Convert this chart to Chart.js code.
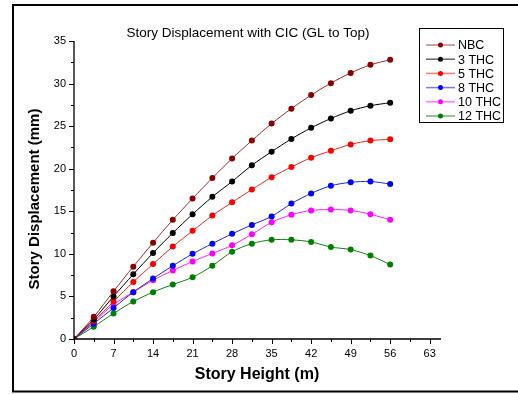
<!DOCTYPE html>
<html>
<head>
<meta charset="utf-8">
<script src="https://cdn.jsdelivr.net/npm/chart.js@4.4.1/dist/chart.umd.min.js"></script>
<style>
  html, body { margin: 0; padding: 0; background: #fff; }
  #wrap { position: relative; width: 518px; height: 394px; }
  canvas { display: block; }
</style>
</head>
<body>
<div id="wrap"><canvas id="c" width="518" height="394"></canvas></div>
<script>
// Story heights (m) and lateral displacement (mm) per model
const heights = [0, 3.5, 7, 10.5, 14, 17.5, 21, 24.5, 28, 31.5, 35, 38.5, 42, 45.5, 49, 52.5, 56];
const nbc   = [0, 2.6, 5.6, 8.5, 11.3, 14.0, 16.5, 18.9, 21.2, 23.3, 25.3, 27.05, 28.65, 30.05, 31.25, 32.2, 32.8];
const thc3  = [0, 2.3, 5.0, 7.6, 10.1, 12.45, 14.65, 16.7, 18.5, 20.4, 22.0, 23.5, 24.8, 25.9, 26.8, 27.4, 27.75];
const thc5  = [0, 2.1, 4.4, 6.7, 8.8, 10.85, 12.7, 14.5, 16.05, 17.55, 19.0, 20.2, 21.3, 22.1, 22.85, 23.3, 23.45];
const thc8  = [0, 1.8, 3.65, 5.5, 7.1, 8.6, 10.0, 11.2, 12.35, 13.4, 14.4, 15.9, 17.1, 18.0, 18.4, 18.5, 18.2];
const thc10 = [0, 2.0, 4.05, 5.5, 6.9, 8.05, 9.1, 10.05, 11.0, 12.3, 13.7, 14.6, 15.1, 15.2, 15.1, 14.65, 14.0];
const thc12 = [0, 1.45, 3.0, 4.4, 5.5, 6.4, 7.25, 8.6, 10.25, 11.2, 11.65, 11.65, 11.4, 10.8, 10.5, 9.8, 8.75];

const seriesNames = ['NBC', '3 THC', '5 THC', '8 THC', '10 THC', '12 THC'];
const seriesValues = [nbc, thc3, thc5, thc8, thc10, thc12];
const seriesColors = ['#8b0000', '#000000', '#ff0000', '#0000ff', '#ff00ff', '#008000'];
const lineColors   = ['#9b2b2b', '#000000', '#ff2020', '#2020ff', '#ff20ff', '#108010'];

const xTicks = [0, 7, 14, 21, 28, 35, 42, 49, 56, 63];
const yTicks = [0, 5, 10, 15, 20, 25, 30, 35];

const FONT = '"Liberation Sans", Arial, sans-serif';

const datasets = seriesNames.map((name, i) => ({
  label: name,
  data: heights.map((h, k) => ({ x: h, y: seriesValues[i][k] })),
  borderColor: lineColors[i],
  backgroundColor: seriesColors[i],
  pointBackgroundColor: seriesColors[i],
  pointBorderColor: seriesColors[i],
  borderWidth: 1,
  pointRadius: 3,
  pointBorderWidth: 0,
  tension: 0.3,
  fill: false
}));

// Frame, axes, ticks, titles and legend drawn on top of the scales
const decor = {
  id: 'decor',
  afterDraw(chart) {
    const ctx = chart.ctx;
    const xs = chart.scales.x, ys = chart.scales.y;
    const a = chart.chartArea;
    ctx.save();

    // outer frame
    ctx.strokeStyle = '#000';
    ctx.lineWidth = 2;
    ctx.beginPath();
    ctx.moveTo(520, 5); ctx.lineTo(13, 5); ctx.lineTo(13, 391.5); ctx.lineTo(520, 391.5);
    ctx.stroke();

    // axis lines
    ctx.lineWidth = 1.3;
    ctx.beginPath();
    ctx.moveTo(a.left, a.top); ctx.lineTo(a.left, a.bottom); ctx.lineTo(a.right, a.bottom);
    ctx.stroke();

    // x ticks
    ctx.lineWidth = 1;
    ctx.beginPath();
    for (let v = 0; v <= 63; v += 3.5) {
      const px = Math.round(xs.getPixelForValue(v)) + 0.5;
      const major = xTicks.includes(v);
      ctx.moveTo(px, a.bottom); ctx.lineTo(px, a.bottom + (major ? 5 : 3));
    }
    // y ticks
    for (let v = 0; v <= 35; v += 2.5) {
      const py = Math.round(ys.getPixelForValue(v)) + 0.5;
      const major = yTicks.includes(v);
      ctx.moveTo(a.left, py); ctx.lineTo(a.left - (major ? 5 : 3), py);
    }
    ctx.stroke();

    ctx.fillStyle = '#000';
    ctx.font = '11px ' + FONT;
    ctx.textAlign = 'center';
    ctx.textBaseline = 'middle';
    xTicks.forEach(v => ctx.fillText(String(v), xs.getPixelForValue(v), a.bottom + 15));
    ctx.textAlign = 'right';
    yTicks.forEach(v => ctx.fillText(String(v), a.left - 8, ys.getPixelForValue(v)));

    // axis titles
    ctx.font = 'bold 16px ' + FONT;
    ctx.textAlign = 'center';
    ctx.fillText('Story Height (m)', 257, 375);
    ctx.font = 'bold 15px ' + FONT;
    ctx.save();
    ctx.translate(35, 199);
    ctx.rotate(-Math.PI / 2);
    ctx.fillText('Story Displacement (mm)', 0, 0);
    ctx.restore();

    // chart title
    ctx.font = '13.5px ' + FONT;
    ctx.fillText('Story Displacement with CIC (GL to Top)', 248, 33);

    // legend
    ctx.lineWidth = 1;
    ctx.strokeStyle = '#000';
    ctx.strokeRect(419.5, 28.5, 84, 94);
    ctx.font = '12.5px ' + FONT;
    ctx.textAlign = 'left';
    seriesNames.forEach((name, i) => {
      const y = 45 + i * 14.2;
      ctx.globalAlpha = 0.6;
      ctx.strokeStyle = lineColors[i];
      ctx.lineWidth = 1.5;
      ctx.beginPath(); ctx.moveTo(426, y); ctx.lineTo(455, y); ctx.stroke();
      ctx.globalAlpha = 1;
      ctx.fillStyle = seriesColors[i];
      ctx.beginPath(); ctx.arc(440.5, y, 2.5, 0, Math.PI * 2); ctx.fill();
      ctx.fillStyle = '#000';
      ctx.fillText(name, 458, y + 1);
    });

    ctx.restore();
  }
};

new Chart(document.getElementById('c'), {
  type: 'line',
  data: { datasets },
  options: {
    responsive: false,
    animation: false,
    layout: { padding: { left: 74, top: 41, right: 77, bottom: 55 } },
    plugins: { legend: { display: false }, title: { display: false }, tooltip: { enabled: false } },
    scales: {
      x: { type: 'linear', min: 0, max: 65, display: false },
      y: { type: 'linear', min: 0, max: 35, display: false }
    }
  },
  plugins: [decor]
});
</script>
</body>
</html>
